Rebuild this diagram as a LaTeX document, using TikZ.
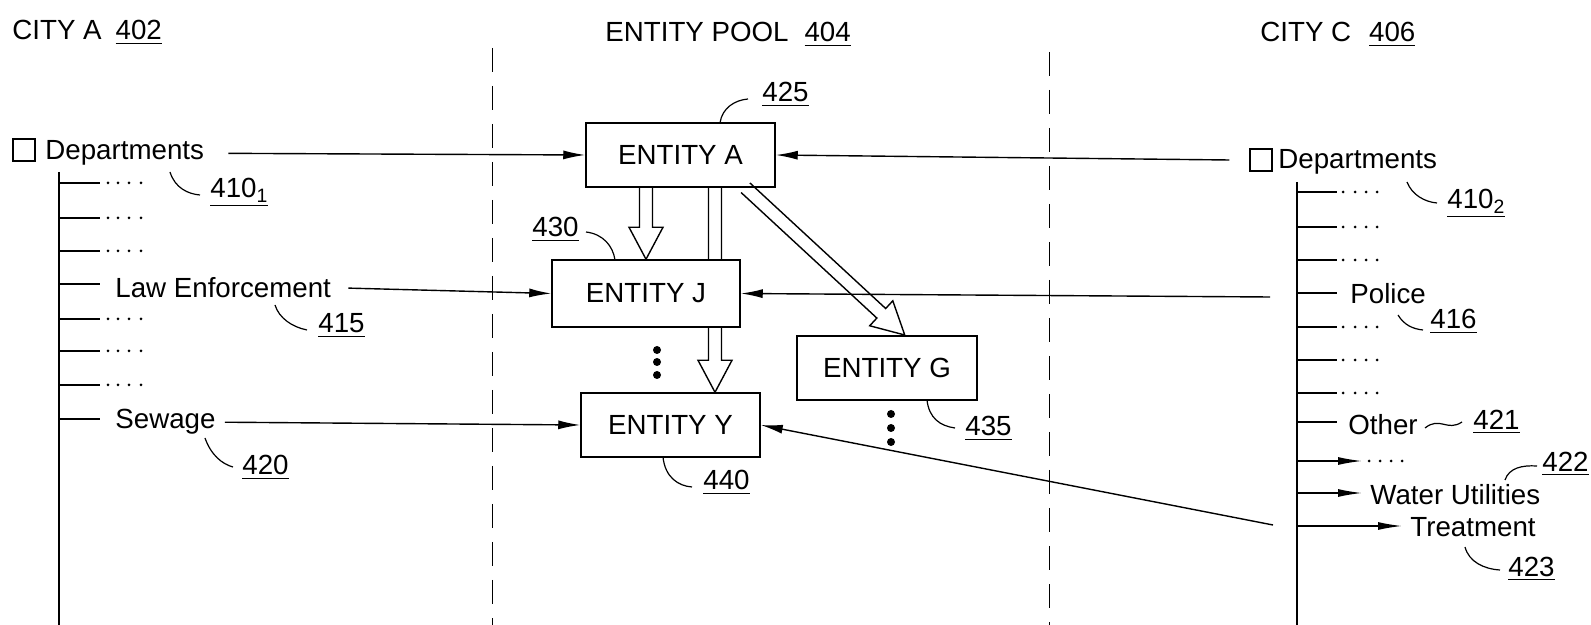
\documentclass[tikz,border=0pt]{standalone}
\usepackage{fontspec}
\setmainfont{Liberation Sans}
\usetikzlibrary{arrows.meta,calc,backgrounds}
\newcommand{\rnum}[1]{\underline{#1}}
\newcommand{\hollowarrow}[2]{%
  \path let \p1=(#1), \p2=(#2) in
    \pgfextra{%
      \pgfmathsetmacro{\haang}{atan2(\y2-\y1,\x2-\x1)}%
      \pgfmathsetmacro{\halen}{veclen(\x2-\x1,\y2-\y1)}%
      \xdef\hax{\x1}\xdef\hay{\y1}%
      \global\let\haangG\haang \global\let\halenG\halen};
  \begin{scope}[shift={(\hax,\hay)},rotate=\haangG]
    \draw[hollowstyle] (0pt,-3.25pt) -- ({\halenG pt-16pt},-3.25pt) -- ({\halenG pt-16pt},-8.5pt) -- (\halenG pt,0pt) -- ({\halenG pt-16pt},8.5pt) -- ({\halenG pt-16pt},3.25pt) -- (0pt,3.25pt);
  \end{scope}}
\tikzset{
  every node/.style={font=\fontsize{13.85}{16}\selectfont, inner sep=0pt},
  txt/.style={anchor=base west},
  ent/.style={draw, line width=0.75pt, fill=white, anchor=center},
  conn/.style={line width=0.7pt, -{Latex[length=11pt,width=4.5pt]}},
  tickarrow/.style={line width=0.7pt, -{Latex[length=12pt,width=4pt]}},
  plain/.style={line width=0.7pt},
  leader/.style={line width=0.6pt},
  dashdiv/.style={line width=0.5pt, dash pattern=on 12pt off 7pt},
  hollowstyle/.style={line width=0.7pt, line join=miter},
  cbox/.style={draw, line width=0.6pt, minimum size=11pt, anchor=center},
}
\begin{document}
\begin{tikzpicture}[x=0.5pt,y=-0.5pt]
\useasboundingbox (0,0) rectangle (1591,625);

% titles
\node[txt] (tA) at (12,40) {CITY A\hspace{7pt}\rnum{402}};
\node[txt] (tP) at (605,42) {ENTITY POOL\hspace{8pt}\rnum{404}};
\node[txt] (tC) at (1260,42) {CITY C\hspace{9pt}\rnum{406}};

% dividers
\draw[dashdiv] (492,48) -- (492,625);
\draw[dashdiv] (1049,52) -- (1049,625);

% left city tree
\node[cbox] (cbL) at (24,150) {};
\node[txt] (depL) at (45,160) {Departments};
\draw[plain] (59,172) -- (59,625);
\foreach \y in {183,218,251,319,351,385} {
  \draw[plain] (59,\y) -- (100,\y);
  \foreach \x in {108,118,129,141} \fill (\x,\y) circle (0.75pt);
}
\draw[plain] (59,284) -- (100,284);
\draw[plain] (59,419) -- (100,419);
\node[txt] (law) at (115,298) {Law Enforcement};
\node[txt] (sew) at (115,429) {Sewage};

\node[txt] (n410a) at (210,198) {\rnum{410\textsubscript{1}}};
\node[txt] (n415) at (318,333) {\rnum{415}};
\node[txt] (n420) at (242,475) {\rnum{420}};
\draw[leader] (170,172) .. controls (175,188) and (188,194) .. (200,195);
\draw[leader] (275,305) .. controls (279,318) and (292,327) .. (307,330);
\draw[leader] (205,438) .. controls (211,455) and (222,464) .. (233,467);

% right city tree
\node[cbox] (cbR) at (1261,160) {};
\node[txt] (depR) at (1278,169) {Departments};
\draw[plain] (1297,182) -- (1297,625);
\foreach \y in {192,227,260,327,360,393} {
  \draw[plain] (1297,\y) -- (1337,\y);
  \foreach \x in {1343,1355,1366,1377} \fill (\x,\y) circle (0.75pt);
}
\draw[plain] (1297,293) -- (1337,293);
\draw[plain] (1297,422) -- (1337,422);
\node[txt] (pol) at (1350,304) {Police};
\node[txt] (oth) at (1348,435) {Other};
\draw[tickarrow] (1297,461) -- (1362,461);
\foreach \x in {1369,1380,1391,1402} \fill (\x,461) circle (0.75pt);
\node[txt] (wat) at (1370,505) {Water Utilities};
\draw[tickarrow, shorten >=4pt] (1297,493) -- (wat.west |- 0,493);
\node[txt] (trt) at (1410,537) {Treatment};
\draw[tickarrow, shorten >=4pt] (1297,526) -- (trt.west |- 0,526);

\node[txt] (n410b) at (1447,209) {\rnum{410\textsubscript{2}}};
\node[txt] (n416) at (1430,329) {\rnum{416}};
\node[txt] (n421) at (1473,430) {\rnum{421}};
\node[txt] (n422) at (1542,472) {\rnum{422}};
\node[txt] (n423) at (1508,576) {\rnum{423}};
\draw[leader] (1407,182) .. controls (1412,195) and (1425,202) .. (1437,203);
\draw[leader] (1398,315) .. controls (1404,325) and (1413,329) .. (1423,330);
\draw[leader] (1425,428) .. controls (1440,416) and (1447,432) .. (1462,422);
\draw[leader] (1505,480) .. controls (1509,468) and (1522,465) .. (1537,466);
\draw[leader] (1465,547) .. controls (1469,562) and (1484,569) .. (1500,570);

% entity pool
\node[ent, minimum width=94.5pt, minimum height=32pt] (A) at (680.5,155) {ENTITY A};
\node[ent, minimum width=94pt, minimum height=33.5pt] (J) at (646,293.5) {ENTITY J};
\node[ent, minimum width=90pt, minimum height=32pt] (G) at (887,368) {ENTITY G};
\node[ent, minimum width=89.5pt, minimum height=32pt] (Y) at (670.5,425) {ENTITY Y};

\node[txt] (n425) at (762,102) {\rnum{425}};
\node[txt] (n430) at (532,237) {\rnum{430}};
\node[txt] (n435) at (965,436) {\rnum{435}};
\node[txt] (n440) at (703,490) {\rnum{440}};
\draw[leader] (720,123) .. controls (722,108) and (735,100) .. (748,99);
\draw[leader] (586,232) .. controls (603,234) and (613,246) .. (615,260);
\draw[leader] (927,400) .. controls (929,418) and (940,426) .. (955,428);
\draw[leader] (663,457) .. controls (665,477) and (678,486) .. (692,487);

% vertical ellipses
\foreach \y in {350,362,375} \fill (657,\y) circle (2pt);
\foreach \y in {414,428,442} \fill (891,\y) circle (2pt);

% connectors
\coordinate (pIn) at (1270,297);
\coordinate (tIn) at (1273,525);
\draw[conn] ([xshift=12pt]depL.east) -- (A.west);
\draw[conn] ([xshift=-10pt]cbR.west) -- (A.east);
\draw[conn] ([xshift=8.5pt]law.east) -- (J.west);
\draw[conn] (pIn) -- (J.east);
\draw[conn] ([xshift=4.5pt]sew.east) -- (Y.west);
\draw[conn] (tIn) -- (Y.east);

% hollow arrows
\coordinate (ay) at ($(Y.north)+(44.5,0)$);
\begin{scope}[on background layer]
  \hollowarrow{A.south -| ay}{ay}
\end{scope}
\hollowarrow{A.south -| J.north}{J.north}
\hollowarrow{$(A.south)+(65,0)$}{$(G.north)+(18,0)$}
\end{tikzpicture}
\end{document}
